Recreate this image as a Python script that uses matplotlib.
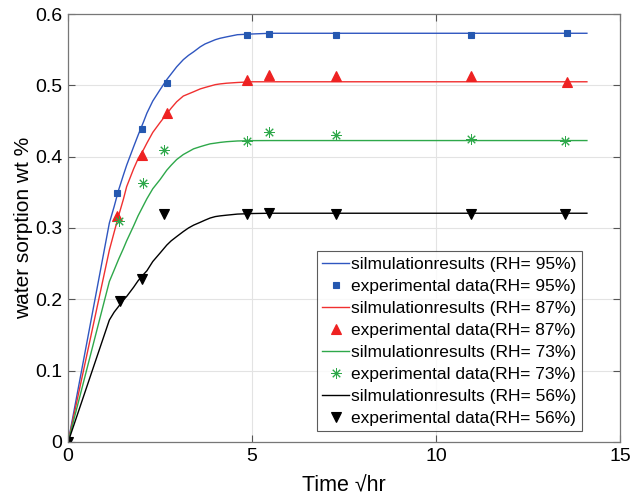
import matplotlib
matplotlib.use('Agg')
import matplotlib.pyplot as plt

plt.rcParams['font.family'] = ['Liberation Sans', 'DejaVu Sans']

# experimental data (x in sqrt(hr))
exp_x = [0, 1.33, 2.0, 2.7, 4.87, 5.47, 7.27, 10.95, 13.55]
exp_95 = [0, 0.349, 0.439, 0.503, 0.571, 0.572, 0.571, 0.571, 0.573]
exp_87 = [0, 0.317, 0.403, 0.461, 0.507, 0.515, 0.513, 0.513, 0.505]
exp_73_x = [0, 1.37, 2.03, 2.6, 4.85, 5.47, 7.27, 10.95, 13.5]
exp_73 = [0, 0.310, 0.363, 0.409, 0.422, 0.434, 0.430, 0.425, 0.422]
exp_56_x = [0, 1.4, 2.0, 2.6, 4.85, 5.47, 7.27, 10.95, 13.5]
exp_56 = [0, 0.198, 0.229, 0.319, 0.319, 0.321, 0.320, 0.320, 0.319]

# simulation curves
sim_x = [0, 1.12, 1.25, 1.37, 1.5, 1.59, 1.78, 1.9, 2.05, 2.14, 2.3, 2.5, 2.68,
         2.8, 2.95, 3.13, 3.27, 3.41, 3.59, 3.72, 3.86, 4.0, 4.13, 4.31, 4.6,
         5.0, 5.5, 6.0, 14.1]
sim_95 = [0, 0.307, 0.330, 0.353, 0.374, 0.388, 0.414, 0.430, 0.449, 0.461, 0.478,
          0.494, 0.508, 0.516, 0.526, 0.536, 0.542, 0.547, 0.554, 0.558, 0.561,
          0.564, 0.566, 0.568, 0.571, 0.572, 0.573, 0.573, 0.573]
sim_87 = [0, 0.269, 0.294, 0.317, 0.340, 0.358, 0.383, 0.397, 0.410, 0.419, 0.434,
          0.448, 0.460, 0.468, 0.477, 0.485, 0.488, 0.491, 0.495, 0.497, 0.499,
          0.501, 0.502, 0.503, 0.504, 0.505, 0.505, 0.505, 0.505]
sim_73 = [0, 0.225, 0.241, 0.256, 0.271, 0.282, 0.303, 0.317, 0.332, 0.341, 0.355,
          0.368, 0.381, 0.388, 0.396, 0.403, 0.407, 0.411, 0.414, 0.416, 0.418,
          0.419, 0.420, 0.421, 0.422, 0.4225, 0.4226, 0.4226, 0.4226]
sim_56 = [0, 0.171, 0.182, 0.190, 0.199, 0.204, 0.217, 0.226, 0.235, 0.240, 0.253,
          0.265, 0.276, 0.282, 0.288, 0.295, 0.300, 0.304, 0.308, 0.311, 0.314,
          0.316, 0.317, 0.318, 0.3195, 0.3203, 0.3207, 0.3207, 0.3207]

rh = ['95', '87', '73', '56']
colors = ['#2f56c0', '#f03030', '#2ea84a', '#000000']
mcolors = ['#2558b0', '#ee2222', '#2ea84a', '#000000']

fig = plt.figure(figsize=(6.31, 4.97), dpi=100)
ax = fig.add_axes([0.108, 0.1107, 0.8746, 0.8611])

sims = [sim_95, sim_87, sim_73, sim_56]
exps = [(exp_x, exp_95), (exp_x, exp_87), (exp_73_x, exp_73), (exp_56_x, exp_56)]
markers = ['s', '^', (8, 2, 0), 'v']
msizes = [5, 7, 7.5, 7]
mews = [0.8, 0.8, 0.7, 0.8]

for i in range(4):
    ax.plot(sim_x, sims[i], color=colors[i], lw=1.0,
            label='silmulationresults (RH= %s%%)' % rh[i])
    ex, ey = exps[i]
    ax.plot(ex, ey, ls='none', marker=markers[i], ms=msizes[i],
            color=mcolors[i], mec=mcolors[i], mew=mews[i],
            label='experimental data(RH= %s%%)' % rh[i])

ax.set_xlim(0, 15)
ax.set_ylim(0, 0.6)
ax.set_xticks([0, 5, 10, 15])
ax.set_yticks([0, 0.1, 0.2, 0.3, 0.4, 0.5, 0.6])
ax.set_yticklabels(['0', '0.1', '0.2', '0.3', '0.4', '0.5', '0.6'])
ax.grid(True, color='#e3e3e3', lw=0.8)
ax.set_axisbelow(True)
ax.tick_params(direction='in', length=5, width=0.8, labelsize=14,
               top=True, right=True, color='#555555', pad=4)
for s in ax.spines.values():
    s.set_color('#777777')
    s.set_linewidth(0.9)

ax.set_xlabel('Time \u221ahr', fontsize=15.5, labelpad=8)
ax.set_ylabel('water sorption wt %', fontsize=15, labelpad=2)

leg = ax.legend(loc='lower right', bbox_to_anchor=(0.931, 0.0245),
                fontsize=12.5, frameon=True, fancybox=False,
                handlelength=1.55, handletextpad=0.12, borderpad=0.3,
                borderaxespad=0, labelspacing=0.4)
leg.get_frame().set_edgecolor('#333333')
leg.get_frame().set_linewidth(0.8)

fig.savefig('out.png', dpi=100)
